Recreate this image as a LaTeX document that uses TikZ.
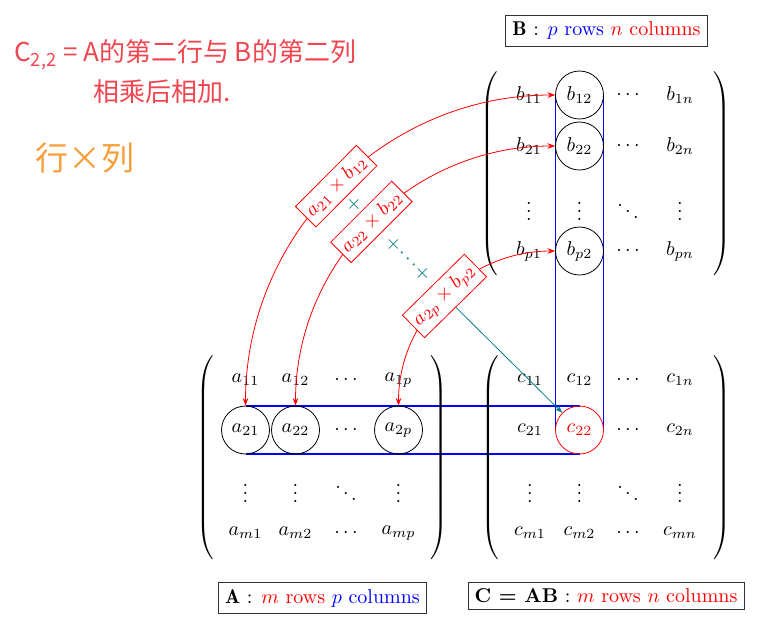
\documentclass[tikz,border=0pt]{standalone}
\usepackage{fontspec}
\newfontfamily\cjk{Noto Sans CJK SC}
\usetikzlibrary{arrows.meta,calc}
\definecolor{hand}{RGB}{240,70,80}
\definecolor{handorange}{RGB}{245,160,60}
\definecolor{tealc}{RGB}{0,128,128}
\definecolor{bandblue}{RGB}{0,0,255}
\newcommand{\parh}{\vcenter{\hrule height 106pt width 0pt}}
\begin{document}
\begin{tikzpicture}[x=0.5pt,y=-0.5pt,
  ent/.style={inner sep=0pt, anchor=center},
  circ/.style={circle, draw, minimum size=24pt, inner sep=0pt},
  lab/.style={draw=black!80, inner sep=3.33pt, fill=white},
  prod/.style={draw=red, text=red, fill=white, sloped, inner xsep=2.2pt, inner ysep=3pt},
  arr/.style={red, {Stealth[length=3.8pt,width=2.8pt]}-{Stealth[length=3.8pt,width=2.8pt]}},
  par/.style={inner sep=0pt},
  band/.style={draw=bandblue, line width=0.75pt},
  tarr/.style={tealc, -{Stealth[length=3.8pt,width=2.8pt]}}
]
\useasboundingbox (0,0) rectangle (775,618);

% handwritten notes
\node[anchor=west, text=hand, font=\cjk\fontsize{13}{15}\selectfont, inner sep=0pt] (h1) at (14,55) {C\textsubscript{2,2} = A的第二行与 B的第二列};
\node[anchor=west, text=hand, font=\cjk\fontsize{13}{15}\selectfont, inner sep=0pt] (h2) at (93,92) {相乘后相加.};
\node[anchor=west, text=handorange, font=\cjk\fontsize{16.5}{19}\selectfont, inner sep=0pt] (h3) at (35,158) {行×列};

% blue row / column bands (drawn under everything)
\coordinate (colL) at (555.5,95);
\coordinate (colR) at (603.5,95);
\coordinate (rowT) at (245.5,406);
\coordinate (rowB) at (245.5,454);
\coordinate (cc) at (579.5,430);
\draw[band] (colL) -- (colL |- cc);
\draw[band] (colR) -- (colR |- cc);
\draw[band] (rowT) -- (rowT -| cc);
\draw[band] (rowB) -- (rowB -| cc);

% matrix B
\node[ent] (b11) at (529,95) {$b_{11}$};
\node[circ] (b12) at (579.5,95) {$b_{12}$};
\node[ent] (b13) at (628,95) {$\cdots$};
\node[ent] (b14) at (680,95) {$b_{1n}$};
\node[ent] (b21) at (529,146) {$b_{21}$};
\node[circ] (b22) at (579.5,146) {$b_{22}$};
\node[ent] (b23) at (628,146) {$\cdots$};
\node[ent] (b24) at (680,146) {$b_{2n}$};
\node[ent] (b31) at (529,205) {$\vdots$};
\node[ent] (b32) at (579.5,205) {$\vdots$};
\node[ent] (b33) at (628,205) {$\ddots$};
\node[ent] (b34) at (680,205) {$\vdots$};
\node[ent] (b41) at (529,251) {$b_{p1}$};
\node[circ] (b42) at (579.5,251) {$b_{p2}$};
\node[ent] (b43) at (628,251) {$\cdots$};
\node[ent] (b44) at (680,251) {$b_{pn}$};
\node[par] (Bl) at (490,173.5) {$\left(\parh\right.$};
\node[par] (Br) at (721,173.5) {$\left.\parh\right)$};

% matrix A
\node[ent] (a11) at (245.5,380) {$a_{11}$};
\node[ent] (a12) at (295.5,380) {$a_{12}$};
\node[ent] (a13) at (346,380) {$\cdots$};
\node[ent] (a14) at (398.5,380) {$a_{1p}$};
\node[circ] (a21) at (245.5,430) {$a_{21}$};
\node[circ] (a22) at (295.5,430) {$a_{22}$};
\node[ent] (a23) at (346,430) {$\cdots$};
\node[circ] (a24) at (398.5,430) {$a_{2p}$};
\node[ent] (a31) at (245.5,487) {$\vdots$};
\node[ent] (a32) at (295.5,487) {$\vdots$};
\node[ent] (a33) at (346,487) {$\ddots$};
\node[ent] (a34) at (398.5,487) {$\vdots$};
\node[ent] (a41) at (245.5,533) {$a_{m1}$};
\node[ent] (a42) at (295.5,533) {$a_{m2}$};
\node[ent] (a43) at (346,533) {$\cdots$};
\node[ent] (a44) at (398.5,533) {$a_{mp}$};
\node[par] (Al) at (206,457.5) {$\left(\parh\right.$};
\node[par] (Ar) at (438,457.5) {$\left.\parh\right)$};

% matrix C
\node[ent] (c11) at (530,380) {$c_{11}$};
\node[ent] (c12) at (579.5,380) {$c_{12}$};
\node[ent] (c13) at (628,380) {$\cdots$};
\node[ent] (c14) at (680,380) {$c_{1n}$};
\node[ent] (c21) at (530,430) {$c_{21}$};
\node[circ, draw=red, text=red] (c22) at (cc) {$c_{22}$};
\node[ent] (c23) at (628,430) {$\cdots$};
\node[ent] (c24) at (680,430) {$c_{2n}$};
\node[ent] (c31) at (530,487) {$\vdots$};
\node[ent] (c32) at (579.5,487) {$\vdots$};
\node[ent] (c33) at (628,487) {$\ddots$};
\node[ent] (c34) at (680,487) {$\vdots$};
\node[ent] (c41) at (530,533) {$c_{m1}$};
\node[ent] (c42) at (579.5,533) {$c_{m2}$};
\node[ent] (c43) at (628,533) {$\cdots$};
\node[ent] (c44) at (680,533) {$c_{mn}$};
\node[par] (Cl) at (491,457.5) {$\left(\parh\right.$};
\node[par] (Cr) at (721,457.5) {$\left.\parh\right)$};

% labels
\node[lab] (LB) at (606.5,30.5) {$\mathbf{B}$ : \textcolor{blue}{$p$ rows} \textcolor{red}{$n$ columns}};
\node[lab] (LA) at (322.5,598) {$\mathbf{A}$ : \textcolor{red}{$m$ rows} \textcolor{blue}{$p$ columns}};
\node[lab] (LC) at (606,596) {\textbf{C = AB} : \textcolor{red}{$m$ rows $n$ columns}};

% product arcs
\draw[arr] (a21.north) to[out=90,in=180] node[prod] (p1) {$a_{21}\times b_{12}$} (b12.west);
\draw[arr] (a22.north) to[out=90,in=180] node[prod] (p2) {$a_{22}\times b_{22}$} (b22.west);
\draw[arr] (a24.north) to[out=90,in=180] node[prod] (p3) {$a_{2p}\times b_{p2}$} (b42.west);

\node[text=tealc, rotate=-45, inner sep=0pt] (t1) at ($(p1)!0.5!(p2)$) {$+$};
\node[text=tealc, rotate=-45, inner sep=0pt] (t2) at ($(p2)!0.5!(p3)$) {${+}\hspace{0.67pt}{\cdotp}\hspace{1.47pt}{\cdotp}\hspace{1.47pt}{\cdotp}\hspace{0.67pt}{+}$};
\draw[tarr] (p3) -- (c22.north west);
\end{tikzpicture}
\end{document}
